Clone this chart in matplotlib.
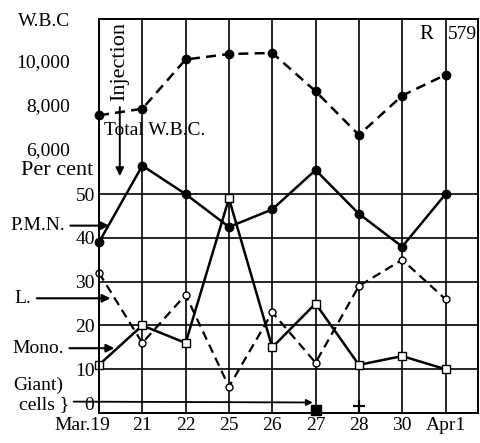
import matplotlib.pyplot as plt

# days (grid columns)
days = ['Mar.19', '21', '22', '25', '26', '27', '28', '30', 'Apr1']

# total white blood cells (per cu. mm)
wbc = [7600, 7900, 10150, 10400, 10450, 8700, 6700, 8500, 9450]
# differential count, per cent
pmn = [39, 56.5, 50, 42.5, 46.5, 55.5, 45.5, 38, 50]
lymph = [32, 16, 27, 6, 23, 11.5, 29, 35, 26]
mono = [11, 20, 16, 49, 15, 25, 11, 13, 10]
# giant cells seen on these days
giant_days = [5, 6]

pct_ticks = [10, 20, 30, 40, 50]
wbc_ticks = [6000, 8000, 10000]


def wbc_to_y(w):
    # 6,000 sits on the 60 row, each grid row = 2,000 cells
    return 60 + (w - 6000) / 200.0


plt.rcParams['font.family'] = ['Liberation Serif', 'DejaVu Serif']
plt.rcParams['font.size'] = 14

fig = plt.figure(figsize=(4.8, 4.43), dpi=100)
ax = fig.add_axes([99 / 480, 1 - 413 / 443, 379 / 480, 394 / 443])
x = list(range(len(days)))

ax.set_xlim(0, 8.75)
ax.set_ylim(0, 90)
ax.set_xticks(x)
ax.set_xticklabels([])
ax.set_yticks(pct_ticks)
ax.set_yticklabels([str(v) for v in pct_ticks])
ax.tick_params(length=0, pad=3)
ax.grid(True, color='black', linewidth=1.2)
for s in ax.spines.values():
    s.set_linewidth(1.4)

# day labels under the grid
for i, d in enumerate(days):
    if i == 0:
        ax.text(i + 0.27, -2.8, d, ha='right', va='center', clip_on=False)
    else:
        ax.text(i, -2.8, d, ha='center', va='center', clip_on=False)

# W.B.C. count
ax.plot(x, [wbc_to_y(w) for w in wbc], color='black', linestyle=(0, (4, 2.5)),
        linewidth=1.8, marker='o', markersize=6, clip_on=False)
# P.M.N.
ax.plot(x, pmn, color='black', linewidth=1.8, marker='o', markersize=6, clip_on=False)
# lymphocytes
ax.plot(x, lymph, color='black', linestyle=(0, (4, 2.5)), linewidth=1.6,
        marker='o', markersize=5, markerfacecolor='white', clip_on=False)
# monocytes
ax.plot(x, mono, color='black', linewidth=1.8, marker='s', markersize=6,
        markerfacecolor='white', clip_on=False)

# giant cells
ax.plot(giant_days[0], 0.6, marker='s', markersize=7, color='black', clip_on=False)
ax.plot(giant_days[1], 1.5, marker='+', markersize=9, markeredgewidth=1.6,
        color='black', clip_on=False)

# W.B.C. labels
for w in wbc_ticks:
    ax.text(-0.67, wbc_to_y(w), format(w, ','), ha='right', va='center')
ax.text(-0.67, 89.5, 'W.B.C', ha='right', va='center', clip_on=False)
ax.text(-0.13, 55.3, 'Per cent', ha='right', va='center', fontsize=16,
        clip_on=False)

# arrows from the left labels
arw = dict(arrowstyle='-|>', color='black', lw=1.5, mutation_scale=12)
ax.annotate('P.M.N.', xy=(0.3, 42.8), xytext=(-2.05, 42.8), va='center',
            arrowprops=arw, annotation_clip=False)
ax.annotate('L.', xy=(0.33, 26.2), xytext=(-1.95, 26.2), va='center',
            arrowprops=arw, annotation_clip=False)
ax.annotate('Mono.', xy=(0.42, 14.8), xytext=(-2.0, 14.8), va='center',
            arrowprops=arw, annotation_clip=False)
ax.text(-1.98, 6.4, 'Giant)', ha='left', va='center')
ax.text(-1.85, 1.9, 'cells }', ha='left', va='center')
ax.text(-0.12, 1.6, '0', ha='right', va='center')
ax.annotate('', xy=(5, 2.4), xytext=(-0.65, 2.6),
            arrowprops=dict(arrowstyle='-|>', color='black', lw=1.3,
                            mutation_scale=9), annotation_clip=False)

# injection marker
ax.text(0.48, 89.3, 'Injection', rotation=90, ha='center', va='top', fontsize=16)
ax.annotate('', xy=(0.48, 53.5), xytext=(0.48, 70.5),
            arrowprops=dict(arrowstyle='-|>', color='black', lw=1.4,
                            mutation_scale=12))
ax.text(0.12, 64.5, 'Total W.B.C.', ha='left', va='center')

# case number
ax.text(7.55, 86.5, 'R', ha='center', va='center', fontsize=15)
ax.text(8.38, 86.5, '579', ha='center', va='center', fontsize=14)

fig.savefig('out.png', dpi=100)
